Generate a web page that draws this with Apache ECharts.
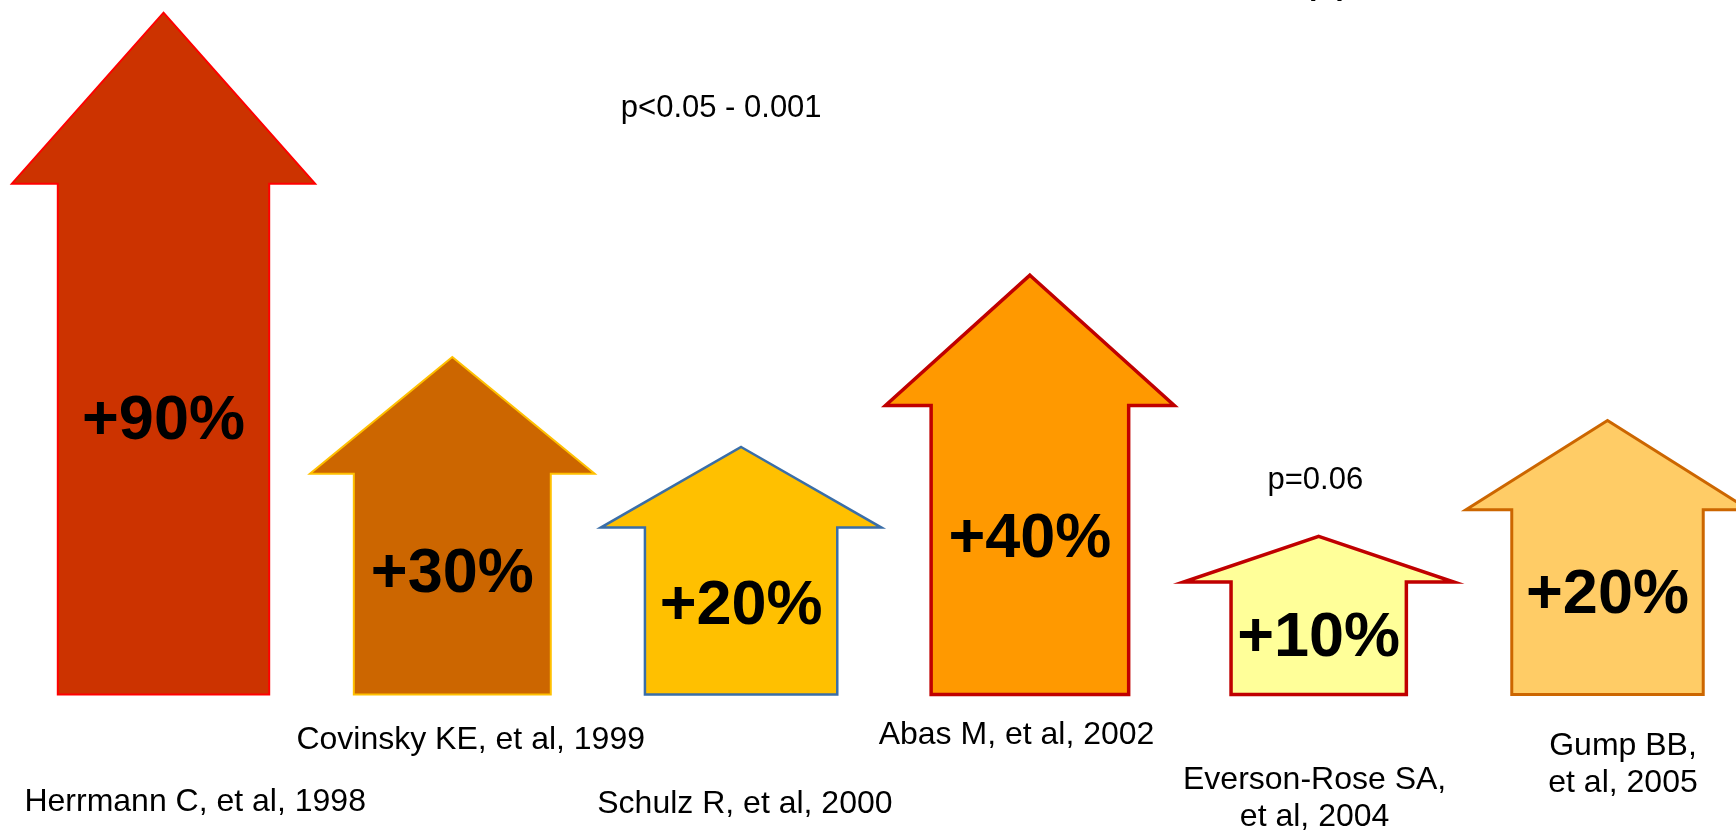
<!DOCTYPE html>
<html>
<head>
<meta charset="utf-8">
<script src="https://cdn.jsdelivr.net/npm/echarts@6/dist/echarts.min.js"></script>
<style>
  html, body { margin: 0; padding: 0; background: #fff; }
  #chart { width: 1736px; height: 834px; }
</style>
</head>
<body>
<div id="chart"></div>
<script>
// ---- data ----
const categories = [
  'Herrmann C, et al, 1998',
  'Covinsky KE, et al, 1999',
  'Schulz R, et al, 2000',
  'Abas M, et al, 2002',
  'Everson-Rose SA,\net al, 2004',
  'Gump BB,\net al, 2005'
];
const increasePct = [90, 30, 20, 40, 10, 20];
// drawn arrow height (tallest arrow = 100)
const arrowHeight = [100, 49.5, 36.3, 61.5, 23.2, 40.2];
const pNotes = ['p<0.05 - 0.001', 'p=0.06'];
const topText = 'pp';

// ---- styles / layout (not data) ----
const arrowStyle = [
  { fill: '#CC3300', stroke: '#FF0000', lw: 2,   shaft: 0.732, head: 1.050, headH: 171,   pctDy: -17.4, labDx: 31.7,  labDy: 107.7 },
  { fill: '#CC6600', stroke: '#FFC000', lw: 2,   shaft: 0.682, head: 0.986, headH: 116.7, pctDy: -9.9,  labDx: 18.4,  labDy: 46.1 },
  { fill: '#FFC000', stroke: '#3A6EA8', lw: 2.5, shaft: 0.666, head: 0.972, headH: 80.6,  pctDy: -4.4,  labDx: 3.8,   labDy: 109.4 },
  { fill: '#FF9900', stroke: '#C00000', lw: 3.5, shaft: 0.684, head: 1.000, headH: 130.3, pctDy: -10.4, labDx: -13.4, labDy: 41.1 },
  { fill: '#FFFF99', stroke: '#C00000', lw: 3.5, shaft: 0.607, head: 0.936, headH: 45.7,  pctDy: 0.8,   labDx: -4.1,  labDy: 103.9 },
  { fill: '#FFCC66', stroke: '#CC6600', lw: 3,   shaft: 0.663, head: 0.980, headH: 89.3,  pctDy: -6.5,  labDx: 15.5,  labDy: 70.1 }
];
const FONT = '"Liberation Sans", Arial, sans-serif';

const chart = echarts.init(document.getElementById('chart'), null, { renderer: 'canvas' });

function txt(x, y, text, size, weight, lineHeight, align) {
  const a = align || 'center';
  return {
    type: 'text', x: x, y: y,
    style: {
      text: text, fill: '#000',
      fontSize: size, fontFamily: FONT, fontWeight: weight || 'normal',
      lineHeight: lineHeight || size,
      align: a, verticalAlign: 'middle',
      textAlign: a, textVerticalAlign: 'middle'
    }
  };
}

chart.setOption({
  animation: false,
  backgroundColor: '#ffffff',
  grid: { left: 163.5, right: 128.5, top: 12.7, height: 681.8 },
  xAxis: { type: 'category', data: categories, show: false, boundaryGap: false },
  yAxis: { type: 'value', min: 0, max: 100, show: false },
  series: [{
    type: 'custom',
    clip: false,
    data: arrowHeight.map((h, i) => [i, h]),
    renderItem: function (params, api) {
      const i = params.dataIndex;
      const s = arrowStyle[i];
      const base = api.coord([api.value(0), 0]);
      const tip = api.coord([api.value(0), api.value(1)]);
      const band = api.size([1, 0])[0];
      const cx = base[0], by = base[1], ty = tip[1];
      const hy = ty + s.headH;
      const sw = band * s.shaft / 2, hw = band * s.head / 2;
      return {
        type: 'group',
        children: [
          {
            type: 'polygon',
            shape: { points: [[cx, ty], [cx + hw, hy], [cx + sw, hy], [cx + sw, by], [cx - sw, by], [cx - sw, hy], [cx - hw, hy]] },
            style: { fill: s.fill, stroke: s.stroke, lineWidth: s.lw, lineJoin: 'miter', miterLimit: 10 }
          },
          txt(cx, (hy + by) / 2 + s.pctDy, '+' + increasePct[i] + '%', 63, 'bold'),
          txt(cx + s.labDx, by + s.labDy, categories[i], 32, 'normal', 37)
        ]
      };
    }
  }],
  graphic: [
    txt(721.2, 108, pNotes[0], 31),
    txt(1315.3, 480, pNotes[1], 31),
    txt(1308, -22, topText, 47, 'normal', 47, 'left')
  ]
});
</script>
</body>
</html>
